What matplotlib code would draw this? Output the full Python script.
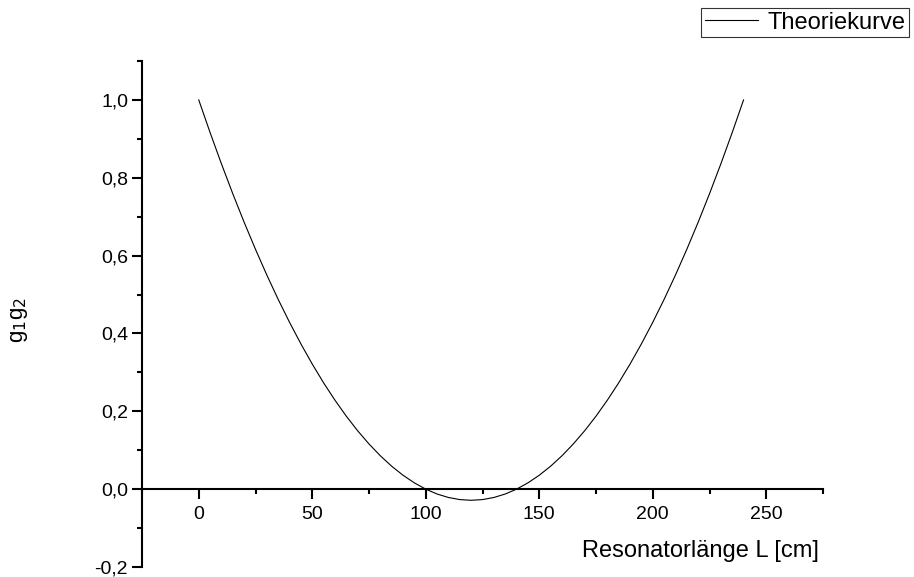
import matplotlib
matplotlib.use("Agg")
import matplotlib.pyplot as plt
from matplotlib.ticker import MultipleLocator, FuncFormatter

plt.rcParams['font.family'] = ['Liberation Sans', 'DejaVu Sans']

# Resonator length L [cm] and g1*g2 values
L_cm = [0, 5, 10, 15, 20, 25, 30, 35, 40, 45, 50, 55, 60, 65, 70, 75, 80, 85, 90, 95,
        100, 105, 110, 115, 120, 125, 130, 135, 140, 145, 150, 155, 160, 165, 170, 175,
        180, 185, 190, 195, 200, 205, 210, 215, 220, 225, 230, 235, 240]
g1g2 = [1.0, 0.9161, 0.8357, 0.7589, 0.6857, 0.6161, 0.55, 0.4875, 0.4286, 0.3732,
        0.3214, 0.2732, 0.2286, 0.1875, 0.15, 0.1161, 0.0857, 0.0589, 0.0357, 0.0161,
        0.0, -0.0125, -0.0214, -0.0268, -0.0286, -0.0268, -0.0214, -0.0125, 0.0,
        0.0161, 0.0357, 0.0589, 0.0857, 0.1161, 0.15, 0.1875, 0.2286, 0.2732, 0.3214,
        0.3732, 0.4286, 0.4875, 0.55, 0.6161, 0.6857, 0.7589, 0.8357, 0.9161, 1.0]

x_ticks = [0, 50, 100, 150, 200, 250]
y_ticks = [-0.2, 0.0, 0.2, 0.4, 0.6, 0.8, 1.0]

fig = plt.figure(figsize=(9.14, 5.77), dpi=100)
ax = fig.add_axes([142/914, 10/577, (823-142)/914, (567-61)/577])

ax.plot(L_cm, g1g2, color='black', linewidth=0.8, label='Theoriekurve')

ax.set_xlim(-25, 275)
ax.set_ylim(-0.2, 1.1)

ax.spines['top'].set_visible(False)
ax.spines['right'].set_visible(False)
ax.spines['bottom'].set_position(('data', 0))
for s in ('left', 'bottom'):
    ax.spines[s].set_linewidth(1.5)

ax.set_xticks(x_ticks)
ax.set_yticks(y_ticks)
ax.xaxis.set_minor_locator(MultipleLocator(25))
ax.yaxis.set_minor_locator(MultipleLocator(0.1))
ax.yaxis.set_major_formatter(FuncFormatter(lambda v, p: f"{v:.1f}".replace('.', ',').replace('-0,0', '0,0')))
ax.tick_params(which='major', direction='out', length=7, width=1.5, labelsize=14, pad=3)
ax.tick_params(axis='x', which='major', pad=5)
ax.tick_params(which='minor', direction='out', length=3.6, width=1.5)

fig.text(819/914, 1 - 551/577, 'Resonatorlänge L [cm]', ha='right', va='center', fontsize=17)
fig.text(20/914, 1 - 320/577, r'g$_1$g$_2$', ha='center', va='center', rotation=90, fontsize=16)

leg = fig.legend(loc='upper right', bbox_to_anchor=(909/914, 1 - 8/577), fontsize=17,
                 frameon=True, fancybox=False, handlelength=2.25, handletextpad=0.4,
                 borderpad=0.15, borderaxespad=0)
leg.get_frame().set_edgecolor('black')
leg.get_frame().set_linewidth(0.8)

fig.savefig('out.png', dpi=100)
